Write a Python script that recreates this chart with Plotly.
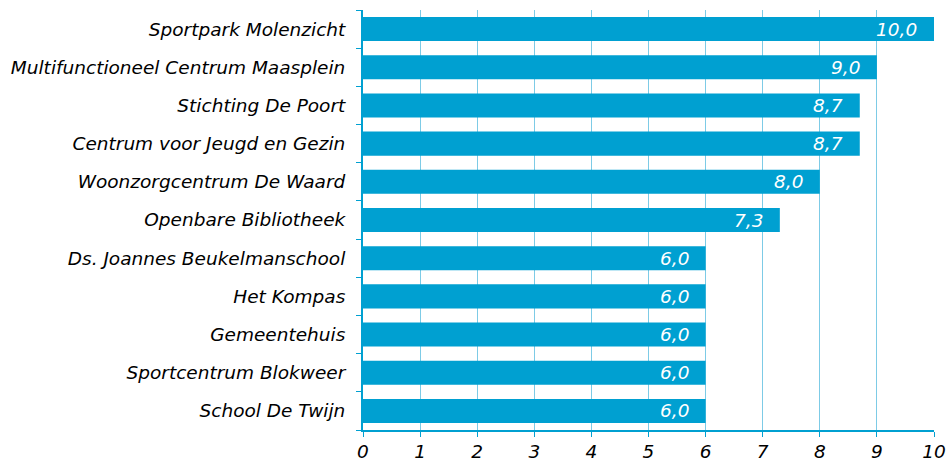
import plotly.graph_objects as go

categories = [
    "Sportpark Molenzicht",
    "Multifunctioneel Centrum Maasplein",
    "Stichting De Poort",
    "Centrum voor Jeugd en Gezin",
    "Woonzorgcentrum De Waard",
    "Openbare Bibliotheek",
    "Ds. Joannes Beukelmanschool",
    "Het Kompas",
    "Gemeentehuis",
    "Sportcentrum Blokweer",
    "School De Twijn",
]
values = [10.0, 9.0, 8.7, 8.7, 8.0, 7.3, 6.0, 6.0, 6.0, 6.0, 6.0]
value_labels = [f"{v:.1f}".replace(".", ",") for v in values]
x_ticks = list(range(0, 11))

BAR = "#00A0D1"
GRID = "#7DCBE6"
FONT = "DejaVu Sans"
FS = 18.5

fig = go.Figure(
    go.Bar(
        y=categories,
        x=values,
        orientation="h",
        marker=dict(color=BAR, line=dict(width=0)),
        hoverinfo="x+y",
    )
)

for cat, v, lab in zip(categories, values, value_labels):
    fig.add_annotation(
        x=v,
        y=cat,
        text=lab,
        showarrow=False,
        xanchor="right",
        yanchor="middle",
        xshift=-15,
        font=dict(family=FONT, size=FS, color="white", style="italic"),
    )

fig.update_layout(
    width=949,
    height=461,
    margin=dict(l=363, r=15, t=10, b=31),
    paper_bgcolor="white",
    plot_bgcolor="white",
    showlegend=False,
    bargap=0.37,
    font=dict(family=FONT, size=FS, color="black", style="italic"),
)

fig.update_xaxes(
    range=[0, 10],
    tickvals=x_ticks,
    ticktext=[str(t) for t in x_ticks],
    showgrid=True,
    gridcolor=GRID,
    gridwidth=1,
    showline=True,
    linecolor=BAR,
    linewidth=2,
    ticks="outside",
    tickcolor=BAR,
    ticklen=5,
    tickwidth=1,
    zeroline=False,
    automargin=False,
    ticklabelstandoff=-1,
    tickfont=dict(family=FONT, size=FS, color="black", style="italic"),
    fixedrange=True,
)

fig.update_yaxes(
    categoryorder="array",
    categoryarray=categories[::-1],
    showline=True,
    linecolor=BAR,
    linewidth=2,
    ticks="outside",
    tickson="boundaries",
    tickcolor=BAR,
    ticklen=5,
    showgrid=False,
    automargin=False,
    ticklabelstandoff=12,
    tickfont=dict(family=FONT, size=FS, color="black", style="italic"),
    fixedrange=True,
)

fig.write_html(
    "out.html",
    config={"displayModeBar": False, "staticPlot": True},
    post_script="document.body.style.margin='0';document.body.style.overflow='hidden';",
)
